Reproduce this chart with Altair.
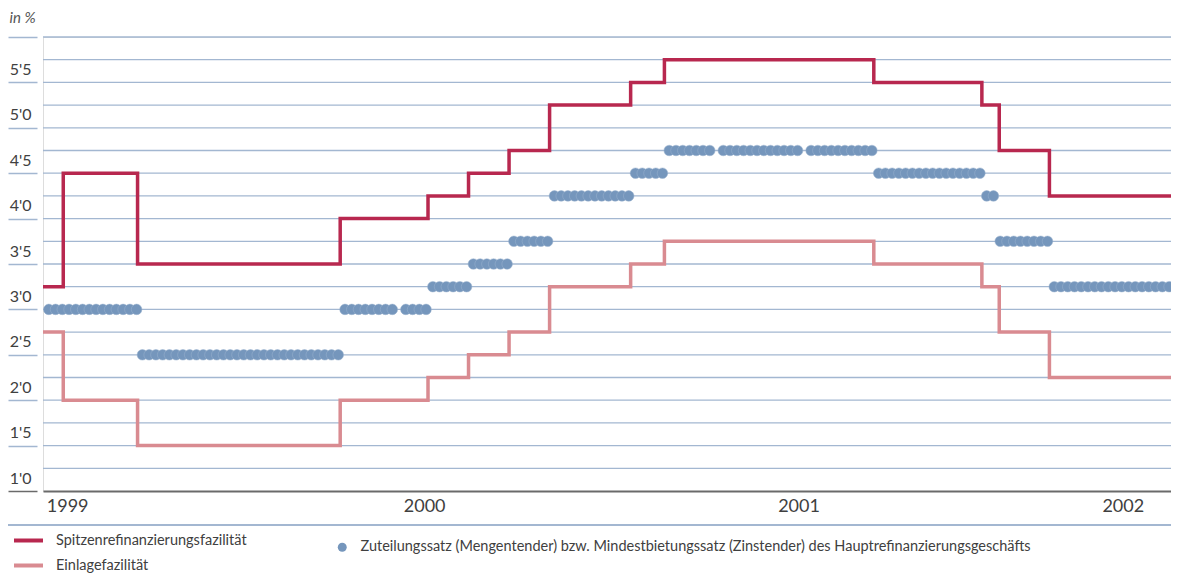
import altair as alt
import pandas as pd

# ---- data ----
# Spitzenrefinanzierungsfazilität (marginal lending facility) - change dates and rates
mlf_dates = ["1999-01-01", "1999-01-22", "1999-04-09", "1999-11-05", "2000-02-04",
             "2000-03-17", "2000-04-28", "2000-06-09", "2000-09-01", "2000-10-06",
             "2001-05-11", "2001-08-31", "2001-09-18", "2001-11-09", "2002-03-15"]
mlf_rates = [3.25, 4.5, 3.5, 4.0, 4.25, 4.5, 4.75, 5.25, 5.5, 5.75,
             5.5, 5.25, 4.75, 4.25, 4.25]

# Einlagefazilität (deposit facility)
dep_dates = mlf_dates
dep_rates = [2.75, 2.0, 1.5, 2.0, 2.25, 2.5, 2.75, 3.25, 3.5, 3.75,
             3.5, 3.25, 2.75, 2.25, 2.25]

# Hauptrefinanzierungsgeschäfte (weekly operations): first date, last date, rate
mro_first = ["1999-01-07", "1999-04-14", "1999-11-10", "2000-01-12", "2000-02-09",
             "2000-03-22", "2000-05-03", "2000-06-14", "2000-09-06", "2000-10-11",
             "2000-12-06", "2001-03-07", "2001-05-16", "2001-09-05", "2001-09-19",
             "2001-11-14"]
mro_last = ["1999-04-08", "1999-11-03", "1999-12-29", "2000-02-02", "2000-03-15",
            "2000-04-26", "2000-06-07", "2000-08-30", "2000-10-04", "2000-11-22",
            "2001-02-21", "2001-05-09", "2001-08-29", "2001-09-12", "2001-11-07",
            "2002-03-13"]
mro_rates = [3.0, 2.5, 3.0, 3.0, 3.25, 3.5, 3.75, 4.25, 4.5, 4.75,
             4.75, 4.75, 4.5, 4.25, 3.75, 3.25]

grid_values = [1.25 + 0.25 * i for i in range(20)]          # horizontal grid lines
tick_values = [1.0, 1.5, 2.0, 2.5, 3.0, 3.5, 4.0, 4.5, 5.0, 5.5, 6.0]
year_label_dates = ["1999-01-26", "2000-01-31", "2001-02-22", "2002-01-24"]

S1 = "Spitzenrefinanzierungsfazilität"
S2 = "Einlagefazilität"
S3 = ("Zuteilungssatz (Mengentender) bzw. Mindestbietungssatz (Zinstender) "
      "des Hauptrefinanzierungsgeschäfts")

RED = "#b8284f"
PINK = "#d98b91"
DOT = "#7596bc"
GRID = "#a3b7d1"
TXT = "#404040"
FONT = "Lato"

lines_df = pd.DataFrame({
    "date": mlf_dates + dep_dates,
    "rate": mlf_rates + dep_rates,
    "series": [S1] * len(mlf_dates) + [S2] * len(dep_dates),
})

dot_dates, dot_rates = [], []
for a, b, r in zip(mro_first, mro_last, mro_rates):
    for d in pd.date_range(a, b, freq="7D"):
        dot_dates.append(d.strftime("%Y-%m-%d"))
        dot_rates.append(r)
dots_df = pd.DataFrame({"date": dot_dates, "rate": dot_rates, "series": S3})
grid_df = pd.DataFrame({"rate": grid_values})

W, H = 1128, 454

def dt(s):
    y, m, d = (int(v) for v in s.split("-"))
    return alt.DateTime(year=y, month=m, date=d, utc=True)

x_scale = alt.Scale(type="utc", domain=[dt("1999-01-01"), dt("2002-03-15")])
y_scale = alt.Scale(domain=[1.0, 6.0], nice=False, zero=False)

x_axis = alt.Axis(
    values=[dt(s) for s in year_label_dates],
    labelExpr="utcFormat(datum.value, '%Y')",
    ticks=False, grid=False, domain=True, domainColor="#6a6a6a", domainWidth=2,
    labelFont=FONT, labelFontSize=18, labelColor=TXT, labelPadding=6,
    labelAlign="center", title=None, labelOverlap=False,
)

y_axis = alt.Axis(
    values=tick_values,
    grid=False,
    domain=False, offset=6, tickSize=29, tickWidth=1.5,
    tickColor={"expr": "datum.value == 1 ? '#6a6a6a' : '" + GRID + "'"},
    labelExpr="datum.value < 6 ? "
              "replace(format(datum.value, '.1f'), '.', \"'\") : ''",
    labelFont=FONT, labelFontSize=16, labelColor=TXT,
    labelPadding=-23, labelOffset=-13, labelBaseline="middle", labelOverlap=False,
    title="in %", titleAngle=0, titleFont=FONT, titleFontSize=15,
    titleFontStyle="italic", titleFontWeight="normal", titleColor="#555555",
    titleAlign="left", titleBaseline="middle", titleX=-28, titleY=-20,
)

grid = alt.Chart(grid_df).mark_rule(color=GRID, strokeWidth=1.3).encode(
    y=alt.Y("rate:Q", scale=y_scale, axis=y_axis),
    x=alt.value(0), x2=alt.value(W),
)

lines = alt.Chart(lines_df).mark_line(interpolate="step-after", strokeWidth=3.5).encode(
    x=alt.X("date:T", scale=x_scale, axis=x_axis),
    y=alt.Y("rate:Q", scale=y_scale, axis=y_axis),
    color=alt.Color(
        "series:N",
        scale=alt.Scale(domain=[S1, S2], range=[RED, PINK]),
        sort=[S1, S2],
        legend=alt.Legend(
            orient="none", legendX=-31, legendY=487, direction="vertical",
            title=None, symbolType="stroke", symbolSize=841, symbolStrokeWidth=4,
            labelFont=FONT, labelFontSize=14.5, labelColor=TXT, labelOffset=11,
            rowPadding=-8, labelLimit=800,
        ),
    ),
)

points = alt.Chart(dots_df).mark_circle(size=112, opacity=1, stroke="#9ab2cf",
                                        strokeWidth=0.5).encode(
    x=alt.X("date:T", scale=x_scale, axis=x_axis),
    y=alt.Y("rate:Q", scale=y_scale, axis=y_axis),
    fill=alt.Fill(
        "series:N",
        scale=alt.Scale(domain=[S3], range=[DOT]),
        legend=alt.Legend(
            orient="none", legendX=292, legendY=503, title=None,
            symbolType="circle", symbolSize=80, symbolStrokeWidth=0,
            labelFont=FONT, labelFontSize=14.5, labelColor=TXT, labelOffset=11,
            labelLimit=1200,
        ),
    ),
)

sep = alt.Chart(lines_df).mark_rule(color=GRID, strokeWidth=2).encode(
    x=alt.value(-35), x2=alt.value(W), y=alt.value(488)
)

chart = alt.layer(grid, lines, points, sep).resolve_scale(color="independent").properties(
    width=W, height=H,
    padding={"left": 35, "top": 29, "right": 0, "bottom": 88},
    autosize=alt.AutoSizeParams(type="none"),
).configure_view(stroke=None).configure(background="white")

chart.save("out.html", embed_options={"renderer": "svg", "actions": False})
